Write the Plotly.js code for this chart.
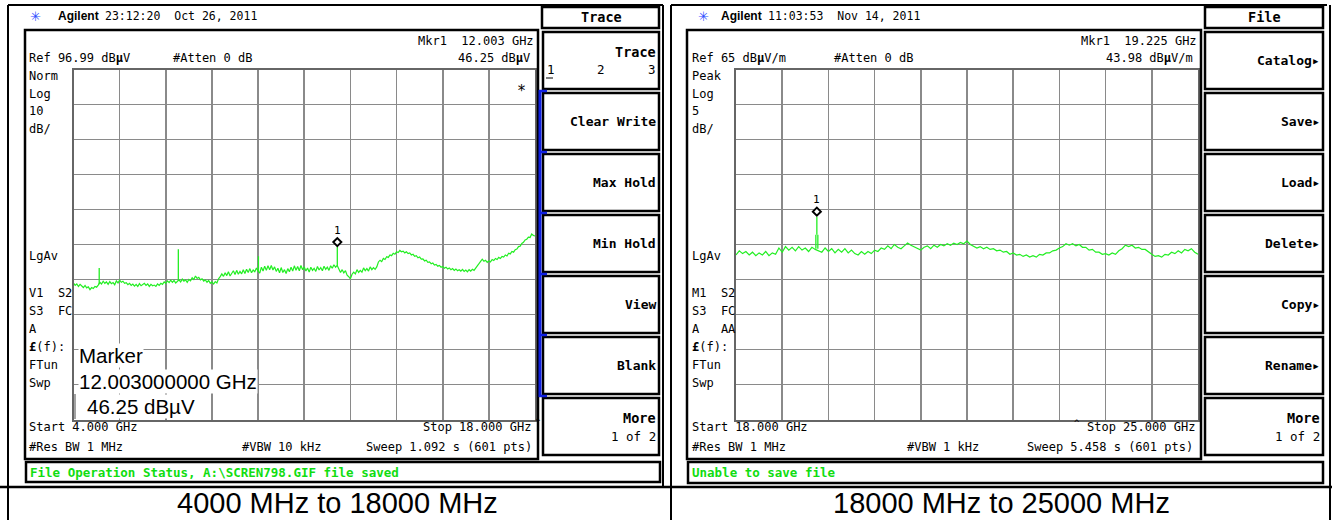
<!DOCTYPE html>
<html><head><meta charset="utf-8">
<script src="https://cdn.plot.ly/plotly-3.0.1.min.js"></script>
<style>html,body{margin:0;padding:0;background:#fff;overflow:hidden}#c{width:1332px;height:520px}</style>
</head><body><div id="c"></div>
<script>
// ---------------- DATA ----------------
// Left screen: 4 - 18 GHz, ref 96.99 dBuV, 10 dB/div
const startL = 4.0, stopL = 18.0, stepL = 0.05;
const refL = 96.99, divL = 10;
const levelsL = [
 36.0,35.3,35.7,35.0,35.6,35.1,34.7,35.3,34.6,34.9,
 34.1,34.7,34.4,35.0,34.8,35.4,36.2,35.7,36.5,35.9,
 36.3,35.6,36.4,35.8,36.1,35.5,36.6,36.0,36.8,36.2,
 36.5,35.9,36.1,35.5,35.9,35.3,35.7,35.1,35.6,35.0,
 35.8,35.2,35.5,35.9,35.3,35.7,35.0,35.6,35.2,35.4,
 35.0,35.7,35.3,35.9,35.6,36.3,35.9,36.6,36.1,36.8,
 36.2,36.7,36.0,36.5,36.9,36.3,37.1,36.5,36.9,36.2,
 37.0,36.6,37.5,37.0,38.0,37.3,37.6,36.9,37.2,36.5,
 36.9,36.2,36.7,35.9,36.3,35.7,36.4,36.0,37.2,37.8,
 38.6,37.9,38.9,38.1,39.2,38.0,38.7,39.5,38.4,39.6,
 38.5,39.3,38.6,39.8,38.7,39.9,39.0,40.1,38.9,39.7,
 39.2,40.3,39.4,38.8,40.5,39.4,40.8,39.6,40.9,39.8,
 41.0,39.7,40.6,39.3,40.2,38.9,40.4,39.0,39.8,38.7,
 40.1,39.2,40.5,39.4,40.9,39.6,40.7,39.5,41.0,39.8,
 40.6,39.4,40.3,39.1,40.5,39.6,40.2,39.3,40.7,39.7,
 40.4,39.5,40.8,39.9,40.5,39.6,40.9,40.2,41.2,40.5,
 41.0,40.1,39.0,39.8,38.9,39.5,38.2,37.8,37.2,38.5,
 39.1,38.6,39.8,39.0,39.6,39.1,40.3,39.5,40.1,39.4,
 40.6,39.8,40.4,39.9,40.6,42.0,42.5,42.1,43.0,42.7,
 43.5,43.3,44.0,43.8,44.5,44.2,44.9,44.7,45.3,44.9,
 45.1,44.6,44.9,44.4,44.6,44.0,44.2,43.6,43.8,43.2,
 43.4,42.8,42.9,42.3,42.5,41.9,42.0,41.5,41.7,41.1,
 41.3,40.8,41.0,40.5,40.7,40.2,40.5,40.0,40.3,39.8,
 40.1,39.6,40.0,39.5,39.8,39.4,39.9,39.3,39.7,39.2,
 39.8,39.4,39.9,39.6,40.4,40.9,41.5,42.3,42.8,42.2,
 42.5,41.9,42.3,42.0,42.7,42.4,43.0,42.7,43.3,43.0,
 43.6,43.4,44.0,43.7,44.5,44.3,45.0,44.8,45.5,45.7,
 46.4,46.5,47.3,47.6,48.3,48.5,49.1,49.0,50.0,49.6,
 49.4
];
const spikeFreqL  = [4.78, 7.18, 9.61, 12.003];
const spikeBaseL  = [35.6, 36.6, 39.2, 40.8];
const spikePeakL  = [40.3, 45.6, 43.6, 46.25];
const mkrFreqL = 12.003, mkrLevelL = 46.25;

// Right screen: 18 - 25 GHz, ref 65 dBuV/m, 5 dB/div
const startR = 18.0, stopR = 25.0, stepR = 0.05;
const refR = 65, divR = 5;
const levelsR = [
 38.5,39.1,38.7,39.0,38.5,38.9,38.4,38.8,38.5,39.0,
 38.4,38.8,38.6,39.5,38.9,39.7,39.2,39.6,39.1,39.7,
 39.2,39.5,39.0,39.6,39.3,39.1,38.9,39.5,39.0,39.4,
 38.8,39.3,38.9,39.4,38.8,39.2,38.7,38.5,39.0,38.6,
 39.0,38.7,39.2,39.0,39.5,39.3,39.8,39.4,40.0,39.6,
 39.4,39.8,40.2,39.9,39.7,39.5,39.2,39.6,39.8,39.4,
 39.9,39.6,40.0,39.8,40.1,39.9,40.2,40.0,40.3,40.1,
 40.5,40.0,39.8,39.5,39.7,39.4,39.6,39.3,39.4,39.1,
 39.2,38.9,39.0,38.6,38.8,38.5,38.6,38.3,38.5,38.2,
 38.4,38.2,38.6,38.5,38.8,38.8,39.1,39.2,39.5,39.7,
 40.1,39.9,40.1,39.8,40.0,39.6,39.6,39.2,39.3,38.9,
 38.9,38.6,38.7,38.5,38.8,38.6,39.1,39.4,39.9,39.7,
 39.9,39.5,39.6,39.3,39.3,38.9,38.6,38.3,38.4,38.2,
 38.6,38.5,38.9,38.7,39.1,38.8,39.3,39.1,39.4,38.9,
 38.6
];
const spikeFreqR = [19.21, 19.225, 19.24];
const spikeBaseR = [39.4, 41.4, 39.4];
const spikePeakR = [41.4, 43.98, 41.4];
const mkrFreqR = 19.225, mkrLevelR = 43.98;

const captions = ['4000 MHz to 18000 MHz', '18000 MHz to 25000 MHz'];
const softkeysL = ['Clear Write', 'Max Hold', 'Min Hold', 'View', 'Blank'];
const softkeysR = ['Catalog\u25B8', 'Save\u25B8', 'Load\u25B8', 'Delete\u25B8', 'Copy\u25B8', 'Rename\u25B8'];

// ---------------- LAYOUT HELPERS ----------------
const W = 1332, H = 520;
const MONO = '"DejaVu Sans Mono","Liberation Mono",monospace';
const SANS = '"Liberation Sans",Arial,sans-serif';
const GREEN = '#22ee22';
const px = x => x / W, py = y => 1 - y / H;
const sp = s => s.replace(/  /g, ' \u00a0');

const ann = [];
function T(x, y, text, o) {
  o = o || {};
  const a = {
    xref: 'paper', yref: 'paper', x: px(x), y: py(y), text: sp(text), showarrow: false,
    xanchor: o.anchor || 'left', yanchor: 'middle', borderpad: 0,
    font: {family: o.fam || MONO, size: o.size || 12, color: o.color || '#000'}
  };
  if (o.bg) { a.bgcolor = o.bg; }
  ann.push(a);
}
const shapes = [];
function R(x0, y0, x1, y1, w, c) {
  shapes.push({type: 'rect', xref: 'paper', yref: 'paper', x0: px(x0), x1: px(x1), y0: py(y0), y1: py(y1),
    line: {color: c || '#000', width: w || 2}, fillcolor: 'rgba(0,0,0,0)', layer: 'above'});
}
function L(x0, y0, x1, y1, w, c) {
  shapes.push({type: 'line', xref: 'paper', yref: 'paper', x0: px(x0), x1: px(x1), y0: py(y0), y1: py(y1),
    line: {color: c || '#000', width: w || 2}, layer: 'above'});
}

// -------- frames --------
L(8, 5, 663, 5, 2); L(8, 5, 8, 520, 2); L(663, 5, 663, 487, 2);
L(671, 5, 671, 520, 2); L(671, 5, 1327, 5, 2); L(1330, 5, 1330, 520, 2);
L(0, 487, 1332, 487, 2.5);
// screens
R(25, 30, 538, 459, 2.5); R(687, 30, 1201, 459, 2.5);
R(26, 462, 660, 482, 2.5); R(688, 462, 1323, 483, 2.5);
// softkey title boxes + softkeys
R(542, 7, 659, 28, 2.5); R(1205, 7, 1323, 28, 2.5);
const skTop = [32, 93, 154, 215, 276, 337, 398];
skTop.forEach(t => { R(543, t, 659, t + 57, 2.5); R(1205, t, 1323, t + 57, 2.5); });
// blue active-trace bar
L(540, 90, 540, 397, 3, '#1020e0');
[91, 152, 213, 274, 335, 396].forEach(y => L(539, y, 547, y, 2.5, '#1020e0'));
// underline under "1"
L(546, 78, 553, 78, 1);
// left edge of marker amplitude box
L(75, 394, 75, 419, 1.2, '#666');

// -------- left texts --------
T(35, 16, '\u2733', {fam: SANS, size: 13, color: '#3050ff', anchor: 'center'});
T(57, 16, '<b>Agilent</b>', {fam: SANS, size: 12});
T(104, 16, '23:12:20  Oct 26, 2011', {size: 11.5});
T(28, 58, 'Ref 96.99 dB<b>\u00b5</b>V');
T(172, 58, '#Atten 0 dB');
T(535, 41, 'Mkr1  12.003 GHz', {anchor: 'right'});
T(531, 58, '46.25 dB<b>\u00b5</b>V', {anchor: 'right'});
['Norm', 'Log', '10', 'dB/'].forEach((s, i) => T(28, 76 + i * 17.5, s));
T(521, 91, '*', {anchor: 'center', size: 15});
T(28, 256, 'LgAv');
['V1  S2', 'S3  FC', 'A', '<b>\u00a3</b>(f):', 'FTun', 'Swp'].forEach((s, i) => T(28, 293 + i * 18, s));
T(78, 355, 'Marker', {fam: SANS, size: 20.5, bg: '#fff'});
T(78, 381, '12.003000000 GHz', {fam: SANS, size: 20.5, bg: '#fff'});
T(86, 406, '46.25 dB\u00b5V', {fam: SANS, size: 20.5, bg: '#fff'});
T(28, 427, 'Start 4.000 GHz');
T(532, 427, 'Stop 18.000 GHz', {anchor: 'right'});
T(534, 422, '^', {size: 9});
T(28, 447, '#Res BW 1 MHz');
T(241, 447, '#VBW 10 kHz');
T(533, 447, 'Sweep 1.092 s (601 pts)', {anchor: 'right'});
T(29, 472, '<b>File Operation Status, A:\\SCREN798.GIF file saved</b>', {size: 12.5, color: '#11dd11'});
T(601, 17, '<b>Trace</b>', {anchor: 'center', size: 13.5});
T(657, 52, '<b>Trace</b>', {anchor: 'right', size: 13.5});
T(546, 70, '1', {size: 12.5}); T(601, 70, '2', {anchor: 'center', size: 12.5}); T(657, 70, '3', {anchor: 'right', size: 12.5});
softkeysL.forEach((s, i) => T(657, 121 + i * 61, '<b>' + s + '</b>', {anchor: 'right', size: 13}));
T(657, 418, '<b>More</b>', {anchor: 'right', size: 13.5});
T(657, 436, '1 of 2', {anchor: 'right', size: 12.5});
T(337, 503, captions[0], {fam: SANS, size: 29, anchor: 'center'});

// -------- right texts --------
T(703, 16, '\u2733', {fam: SANS, size: 13, color: '#3050ff', anchor: 'center'});
T(720, 16, '<b>Agilent</b>', {fam: SANS, size: 12});
T(767, 16, '11:03:53  Nov 14, 2011', {size: 11.5});
T(691, 58, 'Ref 65 dB<b>\u00b5</b>V/m');
T(833, 58, '#Atten 0 dB');
T(1198, 41, 'Mkr1  19.225 GHz', {anchor: 'right'});
T(1194, 58, '43.98 dB<b>\u00b5</b>V/m', {anchor: 'right'});
['Peak', 'Log', '5', 'dB/'].forEach((s, i) => T(691, 76 + i * 17.5, s));
T(691, 256, 'LgAv');
['M1  S2', 'S3  FC', 'A   AA', '<b>\u00a3</b>(f):', 'FTun', 'Swp'].forEach((s, i) => T(691, 293 + i * 18, s));
T(691, 427, 'Start 18.000 GHz');
T(1196, 427, 'Stop 25.000 GHz', {anchor: 'right'});
T(1073, 423, '^', {size: 9});
T(691, 447, '#Res BW 1 MHz');
T(906, 447, '#VBW 1 kHz');
T(1194, 447, 'Sweep 5.458 s (601 pts)', {anchor: 'right'});
T(691, 472, '<b>Unable to save file</b>', {size: 12.5, color: '#11dd11'});
T(1264, 17, '<b>File</b>', {anchor: 'center', size: 13.5});
softkeysR.forEach((s, i) => T(1321, 60 + i * 61, '<b>' + s + '</b>', {anchor: 'right', size: 13}));
T(1321, 418, '<b>More</b>', {anchor: 'right', size: 13.5});
T(1321, 436, '1 of 2', {anchor: 'right', size: 12.5});
T(1001, 503, captions[1], {fam: SANS, size: 29, anchor: 'center'});

// marker glyphs (diamond + "1") anchored to data
[['x', 'y', mkrFreqL, mkrLevelL], ['x2', 'y2', mkrFreqR, mkrLevelR]].forEach(m => {
  shapes.push({type: 'path', xref: m[0], yref: m[1], xsizemode: 'pixel', ysizemode: 'pixel',
    xanchor: m[2], yanchor: m[3], path: 'M0,1 L4,5 L0,9 L-4,5 Z',
    line: {color: '#000', width: 2}, fillcolor: '#fff', layer: 'above'});
  ann.push({xref: m[0], yref: m[1], x: m[2], y: m[3], yshift: 17, text: '1', showarrow: false,
    xanchor: 'center', yanchor: 'middle', font: {family: MONO, size: 11, color: '#000'}});
});

// ---------------- TRACES ----------------
const spikeTraces = (fs, bs, ps, xa, ya) => fs.map((f, i) => ({
  type: 'scatter', mode: 'lines', x: [f, f], y: [bs[i], ps[i]], xaxis: xa, yaxis: ya,
  line: {color: GREEN, width: 1.3}, hoverinfo: 'skip'
}));
const data = [
  {type: 'scatter', mode: 'lines', x0: startL, dx: stepL, y: levelsL, xaxis: 'x', yaxis: 'y',
   line: {color: GREEN, width: 1.2}, hoverinfo: 'skip'},
  {type: 'scatter', mode: 'lines', x0: startR, dx: stepR, y: levelsR, xaxis: 'x2', yaxis: 'y2',
   line: {color: GREEN, width: 1.2}, hoverinfo: 'skip'}
].concat(spikeTraces(spikeFreqL, spikeBaseL, spikePeakL, 'x', 'y'))
 .concat(spikeTraces(spikeFreqR, spikeBaseR, spikePeakR, 'x2', 'y2'));

const gridAx = {showgrid: true, gridcolor: '#8a8a8a', gridwidth: 1.6, showline: true, mirror: true,
  linecolor: '#666', linewidth: 2, showticklabels: false, ticks: '', zeroline: false, fixedrange: true};
const yDom = [py(419.5), py(69.5)];
const layout = {
  width: W, height: H, margin: {l: 0, r: 0, t: 0, b: 0}, showlegend: false,
  paper_bgcolor: '#fff', plot_bgcolor: '#fff',
  xaxis: Object.assign({}, gridAx, {domain: [px(73.5), px(535)], range: [startL, stopL], tick0: startL, dtick: (stopL - startL) / 10, anchor: 'y'}),
  yaxis: Object.assign({}, gridAx, {domain: yDom, range: [refL - 10 * divL, refL], tick0: refL, dtick: divL, anchor: 'x'}),
  xaxis2: Object.assign({}, gridAx, {domain: [px(736), px(1198)], range: [startR, stopR], tick0: startR, dtick: (stopR - startR) / 10, anchor: 'y2'}),
  yaxis2: Object.assign({}, gridAx, {domain: yDom, range: [refR - 10 * divR, refR], tick0: refR, dtick: divR, anchor: 'x2'}),
  shapes: shapes, annotations: ann
};
Plotly.newPlot('c', data, layout, {displayModeBar: false, staticPlot: true});
</script></body></html>
